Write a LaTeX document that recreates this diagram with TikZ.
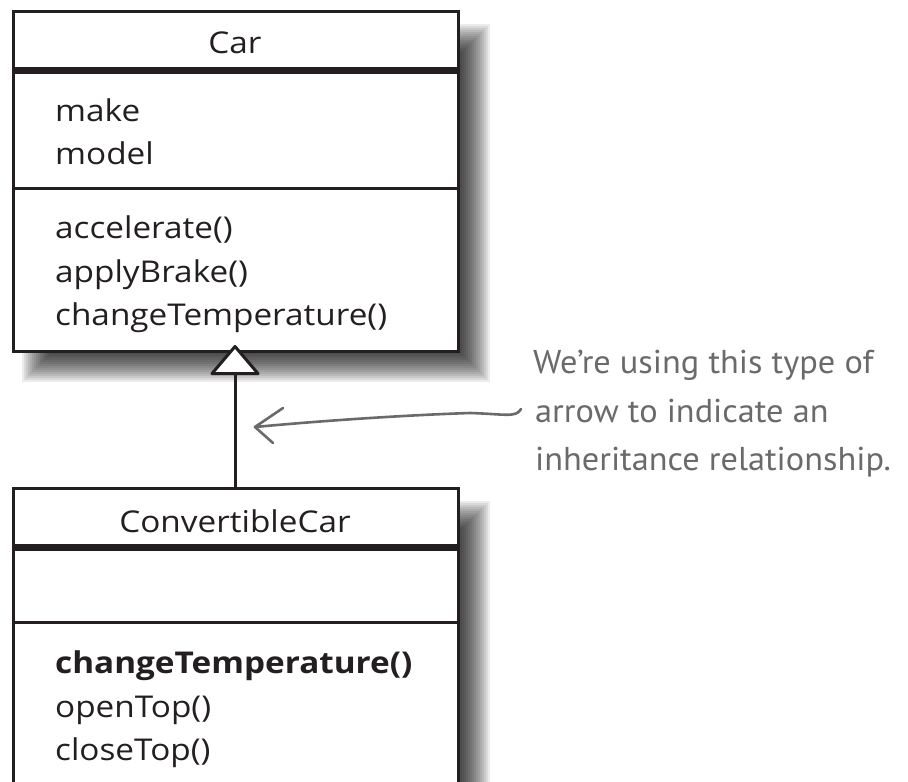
\documentclass[tikz,border=0pt]{standalone}
\usepackage{fontspec}
\newfontfamily\umlfont[FakeStretch=1.11]{Open Sans}
\newfontfamily\handfont[FakeStretch=1.04]{PT Sans}
\usetikzlibrary{arrows.meta}
\definecolor{ink}{HTML}{231F20}
\definecolor{hand}{HTML}{6A6A6A}
\tikzset{
  classbox/.style={draw=ink, line width=3pt, fill=white, minimum width=445pt, inner sep=0pt},
  umltext/.style={font=\umlfont\fontsize{30}{30}\selectfont, text=ink, inner sep=0pt},
  umlbold/.style={font=\umlfont\bfseries\fontsize{30}{30}\selectfont},
  handtext/.style={font=\handfont\fontsize{33}{33}\selectfont, text=hand, inner sep=0pt},
  namebar/.style={draw=ink, line width=7pt},
  divider/.style={draw=ink, line width=3pt},
  handline/.style={draw=hand, line width=2.6pt, line cap=round, line join=round},
}
\newcommand{\blurshadow}[4]{%
  \foreach \r in {16,14,...,-16}{%
    \fill[black, fill opacity=0.074] (#1-\r,#2-\r) rectangle (#3+\r,#4+\r);
  }%
}
\begin{document}
\begin{tikzpicture}[x=1pt,y=-1pt]
\path[use as bounding box, clip] (0,0) rectangle (908,782);
\fill[white] (0,0) rectangle (908,782);

% shadows
\blurshadow{38}{40}{474}{366}
\blurshadow{38}{517}{474}{850}

% Car class
\node[classbox, minimum height=340pt, anchor=north west] (car) at (12,10) {};
\draw[namebar] (car.north west |- 0,70) coordinate (cnl) -- (car.north east |- 0,70) coordinate (cnr);
\draw[divider] (car.north west |- 0,188) coordinate (cdl) -- (car.north east |- 0,188) coordinate (cdr);
\node[umltext, anchor=base] (carname) at (235,53) {Car};
\node[umltext, anchor=base west] (make) at (55,121) {make};
\node[umltext, anchor=base west] (model) at (55,164) {model};
\node[umltext, anchor=base west] (acc) at (55,238) {accelerate()};
\node[umltext, anchor=base west] (brake) at (55,282) {applyBrake()};
\node[umltext, anchor=base west] (temp) at (55,325) {changeTemperature()};

% ConvertibleCar class
\node[classbox, minimum height=360pt, anchor=north west] (conv) at (12,487) {};
\draw[namebar] (conv.north west |- 0,547) coordinate (vnl) -- (conv.north east |- 0,547) coordinate (vnr);
\draw[divider] (conv.north west |- 0,622) coordinate (vdl) -- (conv.north east |- 0,622) coordinate (vdr);
\node[umltext, anchor=base] (convname) at (235,532) {ConvertibleCar};
\node[umltext, umlbold, anchor=base west] (vtemp) at (55,673) {changeTemperature()};
\node[umltext, anchor=base west] (open) at (55,717) {openTop()};
\node[umltext, anchor=base west] (close) at (55,760) {closeTop()};

% inheritance connector
\coordinate (cbot) at (235,350);
\coordinate (vtop) at (235,487);
\draw[draw=ink, line width=3pt, -{Triangle[length=31pt, width=52pt, fill=white, line width=3pt, round]}]
  (vtop) -- ([yshift=5pt]cbot);

% annotation
\node[handtext, anchor=base west] (l1) at (533,373) {We’re using this type of};
\node[handtext, anchor=base west] (l2) at (535,422) {arrow to indicate an};
\node[handtext, anchor=base west] (l3) at (535,470) {inheritance relationship.};
\coordinate (tip) at (255,427);
\coordinate (tail) at (521,409);
\draw[handline] (tail) .. controls (516,418) and (505,414) .. (470,413)
  .. controls (410,415) and (330,420) .. (tip);
\draw[handline] (283,408) -- (tip) -- (273,443);
\end{tikzpicture}
\end{document}
